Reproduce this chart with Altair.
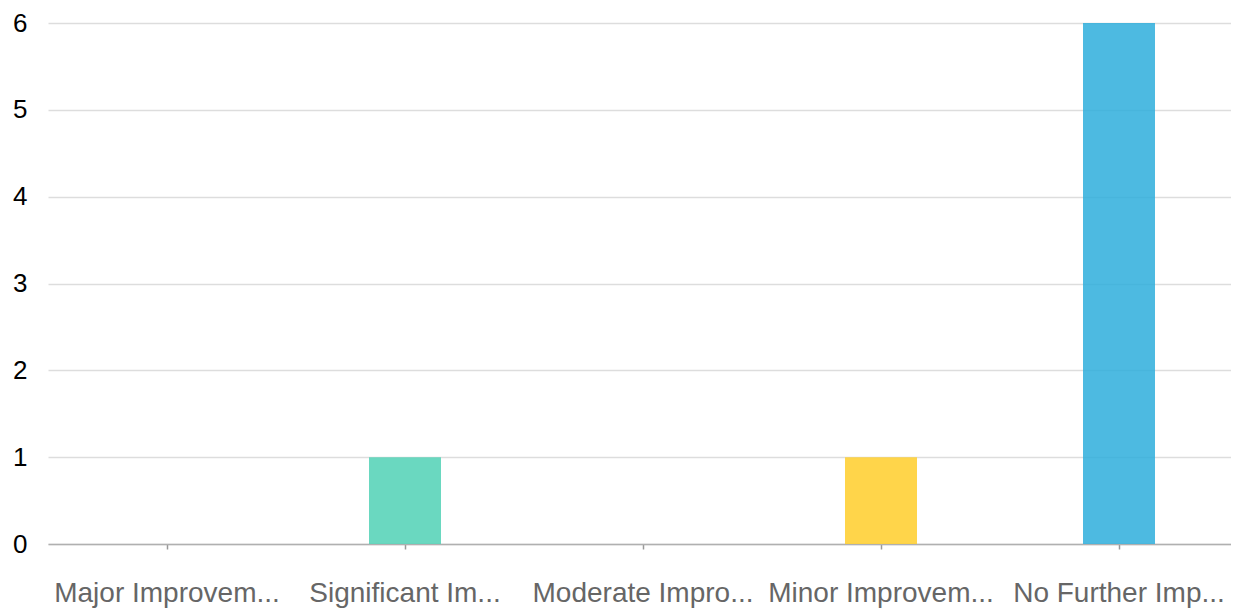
import altair as alt
import pandas as pd

categories = ["Major Improvem...", "Significant Im...", "Moderate Impro...", "Minor Improvem...", "No Further Imp..."]
counts = [0, 1, 0, 1, 6]
colors = ["#2EAEDC", "#50D1B5", "#9B8FE0", "#FFCE2A", "#2EAEDC"]

df = pd.DataFrame({"category": categories, "count": counts, "color": colors})

chart = alt.Chart(df).mark_bar(size=72, opacity=0.85).encode(
    x=alt.X("category:N", sort=categories, title=None,
            scale=alt.Scale(paddingInner=0, paddingOuter=0, range=[0, 1190]),
            axis=alt.Axis(labelAngle=0, labelFontSize=28, labelColor="#666666",
                          labelFont="Liberation Sans", labelPadding=30,
                          tickColor="#999999", tickSize=5, tickWidth=1.5,
                          domainColor="#b0b0b0", domainWidth=1.5,
                          labelLimit=400, grid=False)),
    y=alt.Y("count:Q", title=None,
            scale=alt.Scale(domain=[0, 6]),
            axis=alt.Axis(values=[0, 1, 2, 3, 4, 5, 6], labelFontSize=26,
                          labelColor="#000000", labelFont="Liberation Sans",
                          labelPadding=21, ticks=False, domain=False,
                          gridColor="#dddddd", gridWidth=1.5)),
    color=alt.Color("color:N", scale=None),
).properties(
    width=1183, height=521,
    autosize=alt.AutoSizeParams(type="none"),
    padding={"left": 40, "top": 15, "right": 0, "bottom": 64},
).configure_view(stroke=None)

chart.save("out.html", embed_options={"renderer": "svg", "actions": False})
